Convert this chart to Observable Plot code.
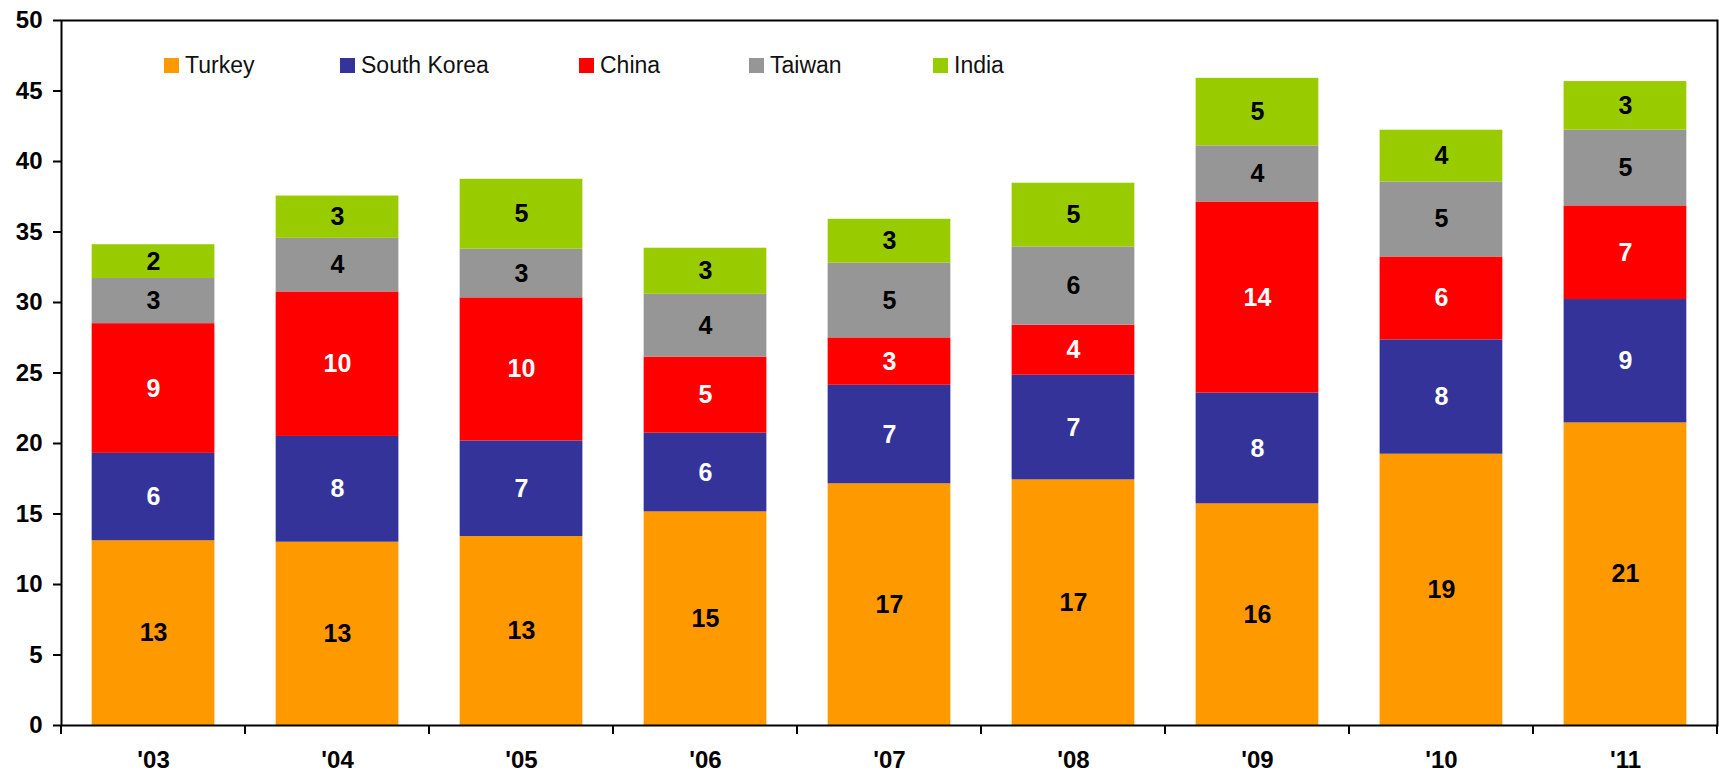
<!DOCTYPE html>
<html>
<head>
<meta charset="utf-8">
<script src="https://cdn.jsdelivr.net/npm/d3@7"></script>
<script src="https://cdn.jsdelivr.net/npm/@observablehq/plot@0.6"></script>
<style>
  html, body { margin: 0; padding: 0; background: #fff; overflow: hidden; }
  #wrap { position: relative; width: 1719px; height: 774px; }
  .legend { position: absolute; top: 52px; left: 0; font-family: "Liberation Sans", Arial, sans-serif; font-size: 23px; color: #111; }
  .item { position: absolute; display: flex; align-items: center; white-space: nowrap; height: 26px; }
  .sw { width: 15px; height: 15px; margin-right: 6px; display: inline-block; }
</style>
</head>
<body>
<div id="wrap"></div>
<script>
const years = ["'03", "'04", "'05", "'06", "'07", "'08", "'09", "'10", "'11"];
const countries = ["Turkey", "South Korea", "China", "Taiwan", "India"];
const colors = ["#FF9900", "#333399", "#FF0000", "#969696", "#99CC00"];
const labelColors = ["#000", "#fff", "#fff", "#000", "#000"];

const turkey     = [13.1, 13.0, 13.4, 15.15, 17.14, 17.42, 15.72, 19.24, 21.46];
const southKorea = [6.2, 7.5, 6.78, 5.58, 6.99, 7.42, 7.85, 8.11, 8.75];
const china      = [9.2, 10.25, 10.15, 5.4, 3.36, 3.55, 13.56, 5.88, 6.64];
const taiwan     = [3.2, 3.8, 3.45, 4.45, 5.3, 5.55, 3.98, 5.32, 5.37];
const india      = [2.4, 3.0, 4.96, 3.27, 3.11, 4.52, 4.79, 3.67, 3.45];

const yTicks = [0, 5, 10, 15, 20, 25, 30, 35, 40, 45, 50];

const series = [turkey, southKorea, china, taiwan, india];
const data = [];
years.forEach((yr, i) => {
  countries.forEach((c, j) => {
    data.push({year: yr, country: c, value: series[j][i], color: colors[j], label: labelColors[j]});
  });
});

function boundaryTicks(index, scales, values, dims) {
  const x = scales.x;
  const bw = typeof x.bandwidth === "function" ? x.bandwidth() : x.bandwidth;
  const step = x(years[1]) - x(years[0]);
  const gap = step - bw;
  const pos = years.map(y => x(y) - gap / 2);
  pos.push(x(years[years.length - 1]) + bw + gap / 2);
  const y0 = dims.height - dims.marginBottom;
  const g = d3.create("svg:g").attr("stroke", "#000").attr("stroke-width", 2);
  g.selectAll("line").data(pos).join("line")
    .attr("x1", d => d).attr("x2", d => d)
    .attr("y1", y0).attr("y2", y0 + 9);
  return g.node();
}

const chart = Plot.plot({
  width: 1719,
  height: 774,
  marginLeft: 61,
  marginRight: 2,
  marginTop: 20,
  marginBottom: 49,
  style: {fontFamily: "'Liberation Sans', Arial, sans-serif", fontSize: "24px", fontWeight: "bold", color: "#000", background: "#fff"},
  x: {domain: years, paddingInner: 0.333, paddingOuter: 0.1667, round: false, label: null},
  y: {domain: [0, 50], label: null},
  color: {type: "identity"},
  marks: [
    Plot.barY(data, {x: "year", y: "value", z: "country", fill: "color"}),
    Plot.text(data, Plot.stackY({x: "year", y: "value", z: "country", text: d => d3.format(".0f")(d.value), fill: "label", fontSize: 25, fontWeight: "bold"})),
    Plot.axisY({ticks: yTicks, tickSize: 8, tickPadding: 11, tickFormat: d => d, strokeWidth: 2, fontSize: 24, fontWeight: "bold", label: null}),
    Plot.axisX({tickSize: 0, tickPadding: 25, fontSize: 24, fontWeight: "bold", label: null}),
    boundaryTicks,
    Plot.frame({stroke: "#000", strokeWidth: 2})
  ]
});

const wrap = document.getElementById("wrap");
wrap.appendChild(chart);

const legend = document.createElement("div");
legend.className = "legend";
const lefts = [164, 340, 579, 749, 933];
countries.forEach((c, j) => {
  const it = document.createElement("div");
  it.className = "item";
  it.style.left = lefts[j] + "px";
  const sw = document.createElement("span");
  sw.className = "sw";
  sw.style.background = colors[j];
  it.appendChild(sw);
  it.appendChild(document.createTextNode(c));
  legend.appendChild(it);
});
wrap.appendChild(legend);
</script>
</body>
</html>
